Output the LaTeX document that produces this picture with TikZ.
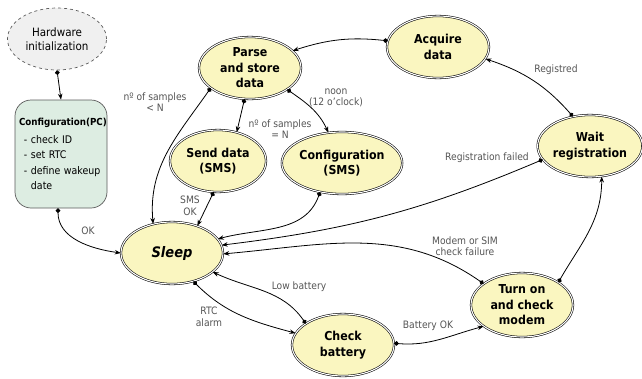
\documentclass[tikz,border=0pt]{standalone}
\usepackage{fontspec}
\setmainfont{DejaVu Sans Condensed}
\usetikzlibrary{shapes.geometric,arrows.meta}
\definecolor{stfill}{RGB}{250,246,192}
\definecolor{pcfill}{RGB}{221,237,226}
\definecolor{hwfill}{RGB}{240,240,240}
\definecolor{lblgray}{RGB}{85,85,85}
\definecolor{bordergray}{RGB}{90,90,90}
\begin{document}
\begin{tikzpicture}[x=1pt,y=1pt,
  state/.style={ellipse, draw=black, double=white, double distance=1.1pt, line width=0.55pt,
    fill=stfill, inner sep=0pt, minimum width=102pt, minimum height=62pt, align=center,
    font=\fontsize{12.3}{15.5}\selectfont\bfseries},
  hwstate/.style={ellipse, draw=bordergray, dashed, line width=0.7pt, fill=hwfill, inner sep=0pt,
    minimum width=99pt, minimum height=62pt, align=center, font=\fontsize{11.5}{13.5}\selectfont},
  pcbox/.style={rectangle, rounded corners=16pt, draw=bordergray, line width=0.7pt, fill=pcfill,
    minimum width=92pt, minimum height=108pt, text width=84pt, align=left, inner sep=0pt,
    font=\fontsize{10.5}{15.5}\selectfont},
  lbl/.style={text=lblgray, align=center, inner sep=0pt, font=\fontsize{10.2}{11.5}\selectfont},
  tr/.style={{Circle[length=4.6pt]}-{Stealth[length=6pt,width=4.5pt]}, line width=0.8pt}
]
\useasboundingbox (0,0) rectangle (642,-378);

% nodes
\node[hwstate] (hw) at (57,-39) {Hardware\\initialization};
\node[pcbox] (pc) at (61,-154) {{\fontsize{9.7}{12}\selectfont\bfseries Configuration(PC)}\\[2pt]
  \hspace*{5pt}- check ID\\ \hspace*{5pt}- set RTC\\ \hspace*{5pt}- define wakeup\\ \hspace*{12pt}date};
\node[state] (parse) at (250,-68) {Parse\\and store\\data};
\node[state] (acq) at (438,-47) {Acquire\\data};
\node[state, minimum width=100pt] (wait) at (590,-146) {Wait\\registration};
\node[state, minimum width=96pt] (send) at (218,-161) {Send data\\(SMS)};
\node[state] (csms) at (342,-163) {Configuration\\(SMS)};
\node[state, minimum height=64pt] (turn) at (522,-305) {Turn on\\and check\\modem};
\node[state] (cb) at (343,-345) {Check\\battery};
\node[state, font=\fontsize{14.5}{16}\selectfont\bfseries\itshape] (sleep) at (172,-253) {Sleep};

% connectors
\draw[tr] (hw.south) -- (pc.north);
\draw[tr] ([xshift=-3pt]pc.south) to[out=-90, in=172] (sleep.180);
\draw[tr] (parse.207) to[out=235, in=95] (sleep.123);
\draw[tr] (parse.260) -- (send.57);
\draw[tr] (parse.330) to[out=-35, in=115] (csms.114);
\draw[tr] (acq.173) to[bend right=12] (parse.22);
\draw[tr] (wait.120) to[bend right=15] (acq.346);
\draw[tr] (send.262) -- (sleep.47);
\draw[tr] (csms.233) to[out=250, in=15] (sleep.17);
\draw[tr] (wait.196) to[bend left=8] (sleep.9);
\draw[tr] (turn.151) to[out=145, in=5] (sleep.359);
\draw[tr] (turn.32) to[out=60, in=270] (wait.291);
\draw[tr] (sleep.307) to[out=-45, in=165] (cb.166);
\draw[tr] (cb.150) to[out=125, in=-25] (sleep.335);
\draw[tr] (cb.2) to[out=-5, in=195] (turn.209);

% labels
\node[lbl] (l1) at (155,-102) {nº of samples\\< N};
\node[lbl] (l2) at (280,-129) {nº of samples\\= N};
\node[lbl] (l3) at (336,-98) {noon\\(12 o'clock)};
\node[lbl] (l4) at (556,-70) {Registred};
\node[lbl] (l5) at (487,-158) {Registration failed};
\node[lbl] (l6) at (190,-206) {SMS\\OK};
\node[lbl] (l7) at (88,-231) {OK};
\node[lbl] (l8) at (465,-246) {Modem or SIM\\check failure};
\node[lbl] (l9) at (209,-317) {RTC\\alarm};
\node[lbl] (l10) at (299,-287) {Low battery};
\node[lbl] (l11) at (428,-326) {Battery OK};
\end{tikzpicture}
\end{document}
